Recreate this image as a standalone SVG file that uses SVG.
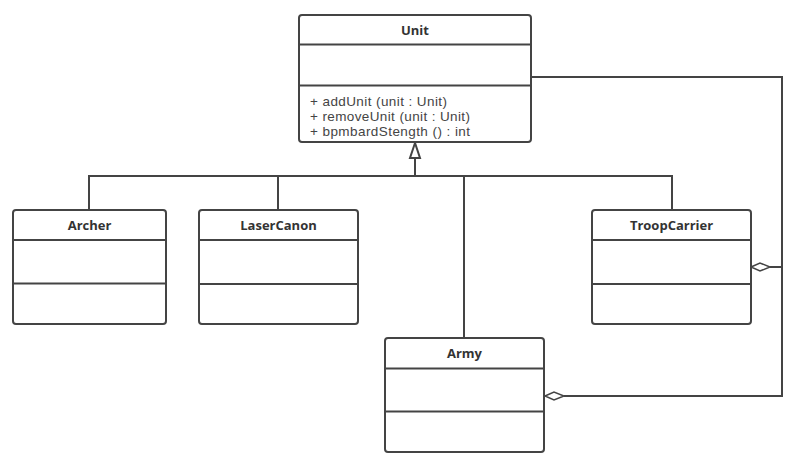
<svg xmlns="http://www.w3.org/2000/svg" width="800" height="470" viewBox="0 0 800 470">
<style>
.box{fill:#fff;stroke:#444;stroke-width:2}
.div{stroke:#444;stroke-width:2}
.title{font-family:"Open Sans","Noto Sans",sans-serif;font-weight:bold;font-size:13px;fill:#333;text-anchor:middle}
.m{font-family:"Liberation Sans",Arial,sans-serif;font-size:13.5px;fill:#444}
.ln{fill:none;stroke:#444;stroke-width:2}
</style>
<rect width="800" height="470" fill="#fff"/>
<g id="connectors">
<polyline class="ln" points="89,210 89,176 672,176 672,210"/>
<line class="ln" x1="278" y1="176" x2="278" y2="210"/>
<line class="ln" x1="278" y1="176" x2="464" y2="176" stroke-width="3"/>
<line class="ln" x1="464" y1="176" x2="464" y2="338"/>
<line class="ln" x1="415" y1="176" x2="415" y2="158" stroke-width="3"/>
<polygon points="415,143 410,158 420,158" fill="#fff" stroke="#444" stroke-width="2" stroke-linejoin="miter"/>
<polyline class="ln" points="531,77 782,77 782,396 564,396"/>
<line class="ln" x1="770" y1="267" x2="782" y2="267"/>
<polygon points="751,267 760,263 770,267 760,271" fill="#fff" stroke="#444" stroke-width="1.5"/>
<polygon points="545,396 554,392 564,396 554,400" fill="#fff" stroke="#444" stroke-width="1.5"/>
</g>
<g id="unit">
<rect class="box" x="299" y="15" width="232" height="127" rx="3"/>
<line class="div" x1="299" y1="44.5" x2="531" y2="44.5"/>
<line class="div" x1="299" y1="85.5" x2="531" y2="85.5"/>
<text class="title" x="415" y="35">Unit</text>
<text class="m" x="310" y="106" textLength="137" lengthAdjust="spacing">+ addUnit (unit : Unit)</text>
<text class="m" x="310" y="121" textLength="160" lengthAdjust="spacing">+ removeUnit (unit : Unit)</text>
<text class="m" x="310" y="136" textLength="160" lengthAdjust="spacing">+ bpmbardStength () : int</text>
</g>
<g id="archer">
<rect class="box" x="13" y="210" width="153" height="114" rx="3"/>
<line class="div" x1="13" y1="240" x2="166" y2="240"/>
<line class="div" x1="13" y1="283.5" x2="166" y2="283.5"/>
<text class="title" x="89.5" y="230">Archer</text>
</g>
<g id="lasercanon">
<rect class="box" x="199" y="210" width="159" height="114" rx="3"/>
<line class="div" x1="199" y1="240" x2="358" y2="240"/>
<line class="div" x1="199" y1="284" x2="358" y2="284"/>
<text class="title" x="278.5" y="230">LaserCanon</text>
</g>
<g id="troopcarrier">
<rect class="box" x="592" y="210" width="159" height="114" rx="3"/>
<line class="div" x1="592" y1="240" x2="751" y2="240"/>
<line class="div" x1="592" y1="284" x2="751" y2="284"/>
<text class="title" x="671.5" y="230">TroopCarrier</text>
</g>
<g id="army">
<rect class="box" x="385" y="338" width="159" height="114" rx="3"/>
<line class="div" x1="385" y1="368.5" x2="544" y2="368.5"/>
<line class="div" x1="385" y1="411.5" x2="544" y2="411.5"/>
<text class="title" x="464.5" y="358">Army</text>
</g>
</svg>
